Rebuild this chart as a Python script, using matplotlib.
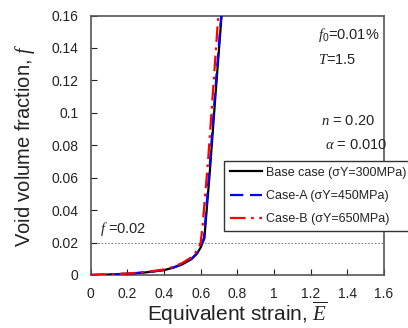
import matplotlib
matplotlib.use("Agg")
import matplotlib.pyplot as plt

plt.rcParams['font.family'] = ['Liberation Sans', 'DejaVu Sans']
plt.rcParams['mathtext.fontset'] = 'custom'
plt.rcParams['mathtext.it'] = 'Liberation Serif:italic'
plt.rcParams['mathtext.rm'] = 'Liberation Sans'

# strain values and void volume fraction
E_base = [0, 0.1, 0.2, 0.3, 0.4, 0.45, 0.5, 0.55, 0.58, 0.6, 0.612, 0.62, 0.65, 0.68, 0.714]
f_base = [0, 0.0003, 0.0008, 0.0016, 0.003, 0.0045, 0.0066, 0.0098, 0.0132, 0.0170, 0.0205, 0.0225, 0.064, 0.110, 0.16]

E_a = [0, 0.1, 0.2, 0.3, 0.4, 0.45, 0.5, 0.55, 0.58, 0.6, 0.612, 0.618, 0.65, 0.68, 0.712]
f_a = [0, 0.0003, 0.0008, 0.0016, 0.0031, 0.0046, 0.0068, 0.0100, 0.0135, 0.0175, 0.0210, 0.0228, 0.068, 0.114, 0.16]

E_b = [0, 0.1, 0.2, 0.3, 0.4, 0.45, 0.5, 0.55, 0.57, 0.59, 0.6, 0.61, 0.64, 0.67, 0.696]
f_b = [0, 0.0003, 0.0009, 0.0018, 0.0034, 0.0050, 0.0074, 0.0110, 0.0135, 0.0170, 0.0200, 0.0300, 0.070, 0.118, 0.16]

labels = ['Base case (σY=300MPa)', 'Case-A (σY=450MPa)', 'Case-B (σY=650MPa)']

fig = plt.figure(figsize=(4.08, 3.28), dpi=100)
ax = fig.add_axes([90.7/408, 1 - 275/328, (384 - 90.7)/408, (275 - 15.5)/328])

ax.axhline(0.02, color='#808080', lw=0.8, ls=(0, (1.5, 1.5)), zorder=1)
ax.plot(E_base, f_base, color='black', lw=1.6, label=labels[0], zorder=3)
ax.plot(E_a, f_a, color='#0000ff', lw=1.6, ls=(0, (6, 3)), label=labels[1], zorder=4)
ax.plot(E_b, f_b, color='#ff0000', lw=1.6, ls=(0, (7, 2.5, 1.2, 2.5)), label=labels[2], zorder=5)

ax.set_xlim(0, 1.6)
ax.set_ylim(0, 0.16)
ax.set_xticks([0, 0.2, 0.4, 0.6, 0.8, 1, 1.2, 1.4, 1.6])
ax.set_xticklabels(['0', '0.2', '0.4', '0.6', '0.8', '1', '1.2', '1.4', '1.6'])
ax.set_yticks([0, 0.02, 0.04, 0.06, 0.08, 0.1, 0.12, 0.14, 0.16])
ax.set_yticklabels(['0', '0.02', '0.04', '0.06', '0.08', '0.1', '0.12', '0.14', '0.16'])
ax.tick_params(direction='in', length=4, width=0.8, labelsize=10, colors='#222222', pad=9)
for s in ax.spines.values():
    s.set_color('#555555')
    s.set_linewidth(1.2)

ax.set_xlabel(r'Equivalent strain, $\overline{E}$', fontsize=15, color='#222222', labelpad=-1)
ax.set_ylabel(r'Void volume fraction, $f$', fontsize=14.5, color='#222222', labelpad=10)

ax.text(0.775, 0.925, r'$f_0$=0.01%', transform=ax.transAxes, fontsize=10.5, color='#222222', va='center')
ax.text(0.775, 0.829, r'$T$=1.5', transform=ax.transAxes, fontsize=10.5, color='#222222', va='center')
ax.text(0.785, 0.593, r'$n$ = 0.20', transform=ax.transAxes, fontsize=10.5, color='#222222', va='center')
ax.text(0.80, 0.50, r'$\alpha$ = 0.010', transform=ax.transAxes, fontsize=10.5, color='#222222', va='center')
ax.text(0.032, 0.177, r'$f$ =0.02', transform=ax.transAxes, fontsize=10.5, color='#222222', va='center')

leg = ax.legend(loc='upper left', bbox_to_anchor=(0.4545, 0.439), borderaxespad=0, fontsize=9,
                frameon=True, fancybox=False, framealpha=1, edgecolor='#333333',
                handlelength=2.6, handletextpad=0.3, borderpad=0.45, labelspacing=0.9)
leg.get_frame().set_linewidth(1.0)
for t in leg.get_texts():
    t.set_color('#222222')

fig.savefig('out.png', dpi=100)
